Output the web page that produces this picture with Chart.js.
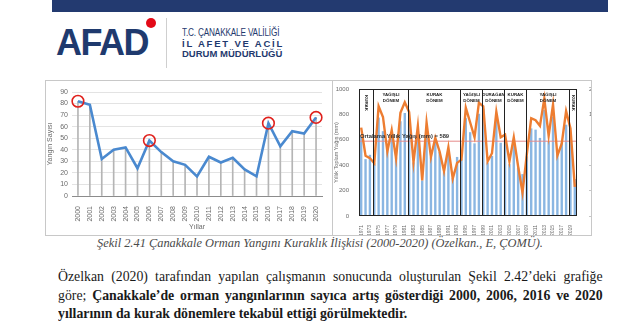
<!DOCTYPE html>
<html>
<head>
<meta charset="utf-8">
<script src="https://cdn.jsdelivr.net/npm/chart.js@4.4.1/dist/chart.umd.min.js"></script>
<style>
    body { margin: 0; width: 620px; height: 332px; position: relative; overflow: hidden; background: #fff; font-family: 'Liberation Sans', Arial, sans-serif; }
    .abs { position: absolute; }
    .topbar { left: 52px; top: 0; width: 556px; height: 12px; background: #233a70; }
    .afad { left: 56px; top: 21px; font: bold 36px 'Liberation Sans', Arial, sans-serif; color: #1f3a6e; letter-spacing: -1.5px; transform: scaleY(1.05); }
    .flag { left: 146px; top: 18px; width: 10px; height: 10px; border-radius: 50%; background: #e30a17; }
    .vsep { left: 166px; top: 18px; width: 1px; height: 50px; background: #cfcfcf; }
    .org1 { left: 182px; top: 27px; font: 10px 'Liberation Sans', sans-serif; color: #1f3a6e; letter-spacing: -0.2px; transform: scaleX(0.82); transform-origin: left top; white-space: nowrap; }
    .org2 { left: 182px; top: 38px; font: bold 9.5px 'Liberation Sans', sans-serif; color: #1f3a6e; letter-spacing: 1.8px; white-space: nowrap; }
    .org3 { left: 182px; top: 48px; font: bold 9.5px 'Liberation Sans', sans-serif; color: #1f3a6e; letter-spacing: 0; white-space: nowrap; }
    .box { border: 1px solid #c8c8c8; box-sizing: border-box; background: #fff; }
    .caption { left: 97px; top: 236px; font: italic 12.4px 'Liberation Serif', 'Times New Roman', serif; color: #4a4a4a; white-space: nowrap; }
    .para { left: 58px; top: 267px; width: 592px; font: 15px 'Liberation Serif', 'Times New Roman', serif; color: #1a1a1a; line-height: 18.5px; transform: scaleX(0.92); transform-origin: left top; }
    .para div { text-align: justify; text-align-last: justify; white-space: nowrap; }
    .para div.last { text-align-last: left; }
</style>
</head>
<body>
<div class="abs topbar"></div>
<div class="abs afad">AFAD</div>
<div class="abs flag"></div>
<div class="abs vsep"></div>
<div class="abs org1">T.C. ÇANAKKALE VALİLİĞİ</div>
<div class="abs org2">İL AFET VE ACİL</div>
<div class="abs org3">DURUM MÜDÜRLÜĞÜ</div>

<div class="abs box" style="left:45px;top:80px;width:288px;height:156px;">
    <canvas id="fireChart" width="286" height="154"></canvas>
</div>
<div class="abs box" style="left:332px;top:80px;width:260px;height:156px;">
    <canvas id="rainChart" width="258" height="154"></canvas>
</div>

<div class="abs caption">Şekil 2.41 Çanakkale Orman Yangını Kuraklık İlişkisi (2000-2020) (Özelkan., E, ÇOMÜ).</div>
<div class="abs para">
    <div>Özelkan (2020) tarafından yapılan çalışmanın sonucunda oluşturulan Şekil 2.42’deki grafiğe</div>
    <div>göre; <b>Çanakkale’de orman yangınlarının sayıca artış gösterdiği 2000, 2006, 2016 ve 2020</b></div>
    <div class="last"><b>yıllarının da kurak dönemlere tekabül ettiği görülmektedir.</b></div>
</div>

<script>
// Yangın sayıları (2000-2020)
const fireYears = ['2000', '2001', '2002', '2003', '2004', '2005', '2006', '2007', '2008', '2009', '2010',
    '2011', '2012', '2013', '2014', '2015', '2016', '2017', '2018', '2019', '2020'];
const fireCounts = [82, 79, 32, 40, 42, 24, 48, 38, 30, 27, 17, 34, 29, 33, 23, 17, 63, 43, 56, 54, 68];
const markedYears = ['2000', '2006', '2016', '2020'];
const fireTicks = [0, 10, 20, 30, 40, 50, 60, 70, 80, 90];

// Yıllık toplam yağış (1971-2020) ve kuraklık indeksi
const rainYears = ['1971', '1972', '1973', '1974', '1975', '1976', '1977', '1978', '1979', '1980',
    '1981', '1982', '1983', '1984', '1985', '1986', '1987', '1988', '1989', '1990',
    '1991', '1992', '1993', '1994', '1995', '1996', '1997', '1998', '1999', '2000',
    '2001', '2002', '2003', '2004', '2005', '2006', '2007', '2008', '2009', '2010',
    '2011', '2012', '2013', '2014', '2015', '2016', '2017', '2018', '2019', '2020'];
const rainTotals = [622, 448, 482, 415, 775, 668, 526, 642, 461, 746,
    811, 746, 422, 642, 280, 668, 461, 585, 505, 345,
    515, 300, 465, 445, 770, 660, 572, 805, 845, 421,
    473, 783, 577, 602, 408, 589, 382, 330, 470, 690,
    680, 615, 835, 589, 783, 512, 577, 719, 641, 291];
const droughtIndex = [0.48, -0.63, -0.72, -0.92, 1.32, 0.9, -0.46, 0.38, -0.73, 1.06,
    1.48, 1.09, -0.88, 0.54, -1.6, 0.68, -0.68, 0.08, -0.47, -1.24,
    -0.3, -1.53, -0.91, -0.78, 1.26, 0.68, 0.1, 1.46, 1.32, -0.85,
    -0.53, 1.1, 0.1, 0.2, -0.85, 0.1, -1.05, -2.08, -0.55, 0.85,
    0.77, 0.55, 1.62, 0.16, 1.39, -0.62, -0.15, 1.13, 0.45, -1.85];
const meanRain = 589;
const rainTicks = [0, 200, 400, 600, 800, 1000];
const indexTicks = [-3, -2, -1, 0, 1, 2];

// Dönemler: başlangıç yılları ve etiketler
const periodStarts = ['1971', '1974', '1982', '1994', '1999', '2004', '2009', '2019'];
const periodLabels = [['KURAK'], ['YAĞIŞLI', 'DÖNEM'], ['KURAK', 'DÖNEM'], ['YAĞIŞLI', 'DÖNEM'],
    ['DURAĞAN', 'DÖNEM'], ['KURAK', 'DÖNEM'], ['YAĞIŞLI', 'DÖNEM'], ['KURAK']];

const tickFont = { family: "'Liberation Sans', Arial, sans-serif", size: 7 };
const tickColor = '#6b6b6b';

new Chart(document.getElementById('fireChart'), {
    type: 'line',
    data: {
        labels: fireYears,
        datasets: [{
            type: 'line',
            data: fireCounts,
            borderColor: '#4a89cf',
            borderWidth: 2.6,
            pointRadius: 0,
            tension: 0,
            order: 1
        }, {
            type: 'line',
            data: fireYears.map((y, i) => markedYears.includes(y) ? fireCounts[i] : null),
            showLine: false,
            pointRadius: 5.8,
            pointBorderColor: '#e0201c',
            pointBorderWidth: 1.6,
            pointBackgroundColor: 'rgba(0,0,0,0)',
            order: 0
        }, {
            type: 'bar',
            data: fireCounts,
            backgroundColor: '#b5b5b5',
            barThickness: 1,
            order: 2
        }]
    },
    options: {
        responsive: false,
        animation: false,
        layout: { padding: { top: 11, right: 10, bottom: 4, left: 0 } },
        plugins: { legend: { display: false }, tooltip: { enabled: false } },
        scales: {
            x: {
                offset: true,
                grid: { display: false },
                border: { color: '#8c8c8c' },
                ticks: { font: tickFont, color: tickColor, minRotation: 90, maxRotation: 90, autoSkip: false, padding: 2 },
                title: { display: true, text: 'Yıllar', font: tickFont, color: tickColor, padding: 0 },
                afterFit: s => { s.height = 35; }
            },
            y: {
                min: 0, max: 90,
                afterBuildTicks: s => { s.ticks = fireTicks.map(v => ({ value: v })); },
                grid: { color: '#e3e3e3', drawTicks: false },
                border: { display: false },
                ticks: { font: tickFont, color: tickColor, padding: 4 },
                title: { display: true, text: 'Yangın Sayısı', font: tickFont, color: tickColor, padding: 0 },
                afterFit: s => { s.width = 26; }
            }
        }
    }
});

const periodPlugin = {
    id: 'periods',
    afterDatasetDraw(chart, args) {
        if (args.index !== 0) return;
        const ctx = chart.ctx, area = chart.chartArea;
        const y = chart.scales.y.getPixelForValue(meanRain);
        ctx.save();
        ctx.strokeStyle = '#e58a8a';
        ctx.lineWidth = 1;
        ctx.beginPath();
        ctx.moveTo(area.left, y);
        ctx.lineTo(area.right, y);
        ctx.stroke();
        ctx.restore();
    },
    afterDraw(chart) {
        const ctx = chart.ctx, area = chart.chartArea, x = chart.scales.x;
        ctx.save();
        ctx.strokeStyle = '#222';
        ctx.lineWidth = 1;
        ctx.strokeRect(area.left + 0.5, area.top + 0.5, area.width - 1, area.height - 1);

        const edges = periodStarts.map((yr, i) => i === 0 ? area.left : Math.round(x.getPixelForValue(rainYears.indexOf(yr))) - 0.5);
        edges.push(area.right);
        ctx.beginPath();
        for (let i = 1; i < edges.length - 1; i++) {
            ctx.moveTo(edges[i], area.top);
            ctx.lineTo(edges[i], area.bottom);
        }
        ctx.stroke();

        ctx.fillStyle = '#222';
        ctx.font = 'bold 4.4px "Liberation Sans", Arial, sans-serif';
        ctx.textAlign = 'center';
        ctx.textBaseline = 'middle';
        periodLabels.forEach((lines, i) => {
            const cx = (edges[i] + edges[i + 1]) / 2;
            if (lines.length === 1) {
                ctx.save();
                ctx.translate(cx, area.top + 14);
                ctx.rotate(Math.PI / 2);
                ctx.fillText(lines[0], 0, 0);
                ctx.restore();
            } else {
                lines.forEach((t, j) => ctx.fillText(t, cx, area.top + 6 + j * 6));
            }
        });

        const my = chart.scales.y.getPixelForValue(meanRain);
        ctx.textAlign = 'left';
        ctx.font = 'bold 5.8px "Liberation Sans", Arial, sans-serif';
        ctx.fillStyle = '#333';
        ctx.fillText('Ortalama Yıllık Yağış (mm) = ' + meanRain, area.left + 1, my - 5);
        ctx.restore();
    }
};

const rainFont = { family: "'Liberation Sans', Arial, sans-serif", size: 6 };

new Chart(document.getElementById('rainChart'), {
    data: {
        labels: rainYears,
        datasets: [{
            type: 'bar',
            data: rainTotals,
            yAxisID: 'y',
            backgroundColor: '#8ab6e2',
            borderWidth: 0,
            barPercentage: 0.55,
            categoryPercentage: 1,
            order: 2
        }, {
            type: 'line',
            data: droughtIndex,
            yAxisID: 'y1',
            borderColor: '#ed7d31',
            borderWidth: 2.4,
            pointRadius: 0,
            tension: 0,
            order: 1
        }]
    },
    options: {
        responsive: false,
        animation: false,
        layout: { padding: { top: 8, right: 0, bottom: 0, left: 0 } },
        plugins: { legend: { display: false }, tooltip: { enabled: false } },
        scales: {
            x: {
                offset: true,
                grid: { display: false },
                border: { display: false },
                ticks: {
                    font: { ...rainFont, size: 5 }, color: tickColor, minRotation: 90, maxRotation: 90, autoSkip: false, padding: 1,
                    callback: (v, i) => i % 2 === 0 ? rainYears[i] : ''
                },
                afterFit: s => { s.height = 19; }
            },
            y: {
                min: 0, max: 1000,
                afterBuildTicks: s => { s.ticks = rainTicks.map(v => ({ value: v })); },
                grid: { display: false },
                border: { display: false },
                ticks: { font: rainFont, color: tickColor, padding: 2, callback: v => String(v) },
                title: { display: true, text: 'Yıllık Toplam Yağış (mm)', font: { ...rainFont, size: 5.5 }, color: tickColor, padding: 0 },
                afterFit: s => { s.width = 26; }
            },
            y1: {
                position: 'right',
                min: -3, max: 2,
                afterBuildTicks: s => { s.ticks = indexTicks.map(v => ({ value: v })); },
                grid: { display: false },
                border: { display: false },
                ticks: { font: rainFont, color: tickColor, padding: 4 },
                afterFit: s => { s.width = 14; }
            }
        }
    },
    plugins: [periodPlugin]
});
</script>
</body>
</html>
